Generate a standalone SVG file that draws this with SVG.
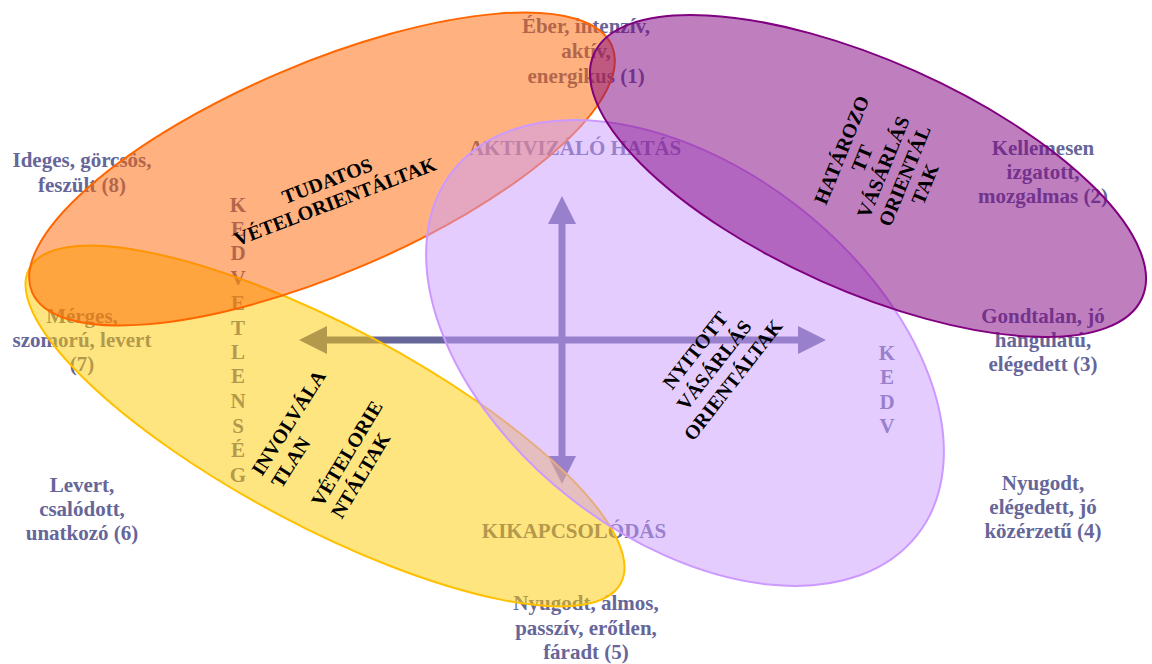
<svg xmlns="http://www.w3.org/2000/svg" width="1152" height="664" viewBox="0 0 1152 664">
<style>
.lbl{font-family:"Liberation Serif","Times New Roman",serif;font-weight:bold;font-size:21px;fill:#666699;text-anchor:middle}
.blk{font-family:"Liberation Serif","Times New Roman",serif;font-weight:bold;font-size:20px;fill:#000000}
.mid{text-anchor:middle}
.axis{stroke:#666699;stroke-width:7;fill:none}
.ell{stroke-width:2}
</style>
<defs>
<marker id="ah" markerUnits="userSpaceOnUse" markerWidth="28" markerHeight="28" refX="0" refY="14" orient="auto">
<path d="M0,0 L28,14 L0,28 Z" fill="#666699"/>
</marker>
</defs>
<rect width="1152" height="664" fill="#ffffff"/>
<g id="labels">
<text class="lbl"><tspan x="586" y="33">Éber, intenzív,</tspan><tspan x="586" y="58">aktív,</tspan><tspan x="586" y="83">energikus (1)</tspan></text>
<text class="lbl" x="575" y="155">AKTIVIZÁLÓ HATÁS</text>
<text class="lbl"><tspan x="82" y="167">Ideges, görcsös,</tspan><tspan x="82" y="192">feszült (8)</tspan></text>
<text class="lbl"><tspan x="1043" y="155">Kellemesen</tspan><tspan x="1043" y="179">izgatott,</tspan><tspan x="1043" y="203">mozgalmas (2)</tspan></text>
<text class="lbl"><tspan x="1043" y="323">Gondtalan, jó</tspan><tspan x="1043" y="347">hangulatú,</tspan><tspan x="1043" y="371">elégedett (3)</tspan></text>
<text class="lbl"><tspan x="82" y="323">Mérges,</tspan><tspan x="82" y="347">szomorú, levert</tspan><tspan x="82" y="371">(7)</tspan></text>
<text class="lbl"><tspan x="82" y="492">Levert,</tspan><tspan x="82" y="516">csalódott,</tspan><tspan x="82" y="540">unatkozó (6)</tspan></text>
<text class="lbl"><tspan x="1043" y="490">Nyugodt,</tspan><tspan x="1043" y="514">elégedett, jó</tspan><tspan x="1043" y="538">közérzetű (4)</tspan></text>
<text class="lbl" x="574" y="538">KIKAPCSOLÓDÁS</text>
<text class="lbl"><tspan x="586" y="610">Nyugodt, álmos,</tspan><tspan x="586" y="635">passzív, erőtlen,</tspan><tspan x="586" y="659">fáradt (5)</tspan></text>
<text class="lbl"><tspan x="887" y="360">K</tspan><tspan x="887" y="384">E</tspan><tspan x="887" y="409">D</tspan><tspan x="887" y="433">V</tspan></text>
<text class="lbl"><tspan x="238" y="212">K</tspan><tspan x="238" y="236">E</tspan><tspan x="238" y="260">D</tspan><tspan x="238" y="285">V</tspan><tspan x="238" y="310">E</tspan><tspan x="238" y="335">T</tspan><tspan x="238" y="359">L</tspan><tspan x="238" y="383">E</tspan><tspan x="238" y="408">N</tspan><tspan x="238" y="433">S</tspan><tspan x="238" y="457">É</tspan><tspan x="238" y="482">G</tspan></text>
</g>
<g id="connectors">
<line class="axis" x1="562" y1="340" x2="327" y2="340" marker-end="url(#ah)"/>
<line class="axis" x1="562" y1="340" x2="798" y2="340" marker-end="url(#ah)"/>
<line class="axis" x1="562" y1="340" x2="562" y2="224" marker-end="url(#ah)"/>
<line class="axis" x1="562" y1="340" x2="562" y2="456" marker-end="url(#ah)"/>
</g>
<g id="involvalatlan-ellipse">
<ellipse class="ell" cx="0" cy="0" rx="335" ry="100" transform="translate(325,426) rotate(28)" fill="#FFCC00" fill-opacity="0.5" stroke="#FFC000"/>
</g>
<g id="tudatos-ellipse">
<ellipse class="ell" cx="0" cy="0" rx="315" ry="105" transform="translate(322,169) rotate(-23)" fill="#FF6600" fill-opacity="0.5" stroke="#FF6600"/>
</g>
<g id="nyitott-ellipse">
<ellipse class="ell" cx="0" cy="0" rx="295" ry="185" transform="translate(685,353) rotate(38)" fill="#CC99FF" fill-opacity="0.5" stroke="#CC99FF"/>
</g>
<g id="hatarozott-ellipse">
<ellipse class="ell" cx="0" cy="0" rx="300" ry="115" transform="translate(868,176) rotate(24)" fill="#800080" fill-opacity="0.5" stroke="#800080"/>
</g>
<g id="tudatos-label" transform="translate(331,191) rotate(-21)">
<text class="blk mid"><tspan x="0" y="-4">TUDATOS</tspan><tspan x="0" y="18">VÉTELORIENTÁLTAK</tspan></text>
</g>
<g id="hatarozott-label" transform="translate(883,167) rotate(-67.7)">
<text class="blk mid"><tspan x="0" y="-38">HATÁROZO</tspan><tspan x="0" y="-16">TT</tspan><tspan x="0" y="7">VÁSÁRLÁS</tspan><tspan x="0" y="30">ORIENTÁL</tspan><tspan x="0" y="52">TAK</tspan></text>
</g>
<g id="nyitott-label" transform="translate(714,365) rotate(-52)">
<text class="blk mid"><tspan x="0" y="-17">NYITOTT</tspan><tspan x="0" y="7">VÁSÁRLÁS</tspan><tspan x="0" y="31">ORIENTÁLTAK</tspan></text>
</g>
<g id="involvalatlan-label" transform="translate(262,477) rotate(-57.5)">
<text class="blk"><tspan x="0" y="0">INVOLVÁLA</tspan><tspan x="0" y="23">TLAN</tspan></text>
</g>
<g id="vetelorientaltak-label" transform="translate(322,508) rotate(-59)">
<text class="blk"><tspan x="0" y="0">VÉTELORIE</tspan><tspan x="0" y="23">NTÁLTAK</tspan></text>
</g>
</svg>
